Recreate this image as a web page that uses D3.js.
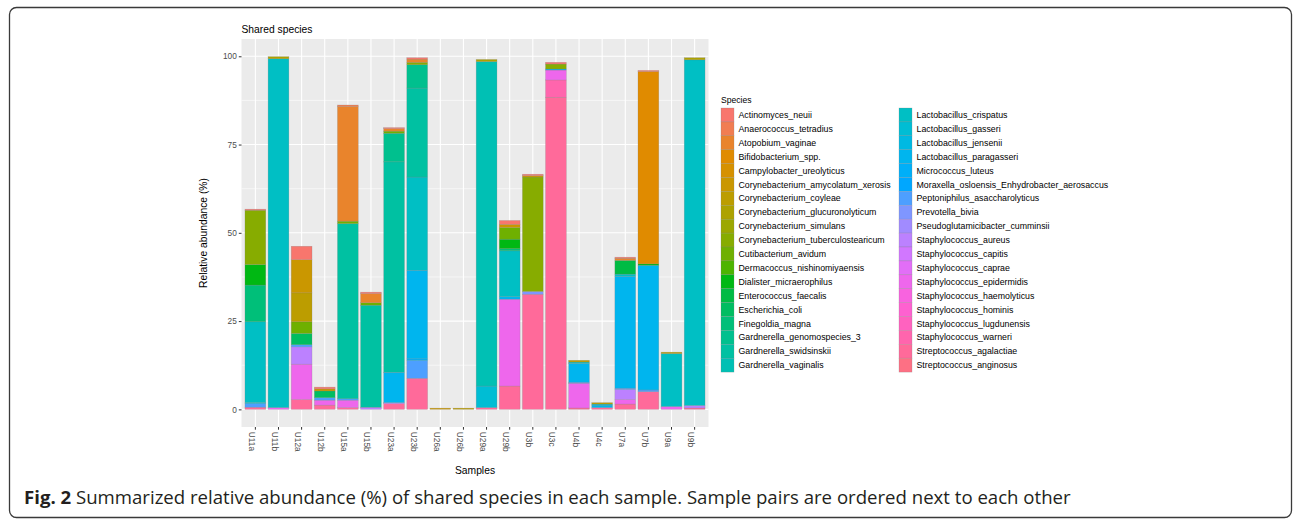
<!DOCTYPE html>
<html>
<head>
<meta charset="utf-8">
<script src="https://cdn.jsdelivr.net/npm/d3@7"></script>
<style>
  body { margin: 0; background: #fff; }
  svg text { font-family: "Liberation Sans", Arial, Helvetica, sans-serif; }
</style>
</head>
<body>
<div id="chart"></div>
<script>
const width = 1293
const height = 519
const panel = ({ left: 241.5, right: 708.5, top: 39, bottom: 427 })

const samples = ["U11a", "U11b", "U12a", "U12b", "U15a", "U15b", "U23a", "U23b", "U26a", "U26b",
    "U29a", "U29b", "U3b", "U3c", "U4b", "U4c", "U7a", "U7b", "U9a", "U9b"]

const species = [
    "Actinomyces_neuii", "Anaerococcus_tetradius", "Atopobium_vaginae", "Bifidobacterium_spp.",
    "Campylobacter_ureolyticus", "Corynebacterium_amycolatum_xerosis", "Corynebacterium_coyleae",
    "Corynebacterium_glucuronolyticum", "Corynebacterium_simulans", "Corynebacterium_tuberculostearicum",
    "Cutibacterium_avidum", "Dermacoccus_nishinomiyaensis", "Dialister_micraerophilus",
    "Enterococcus_faecalis", "Escherichia_coli", "Finegoldia_magna", "Gardnerella_genomospecies_3",
    "Gardnerella_swidsinskii", "Gardnerella_vaginalis", "Lactobacillus_crispatus", "Lactobacillus_gasseri",
    "Lactobacillus_jensenii", "Lactobacillus_paragasseri", "Micrococcus_luteus",
    "Moraxella_osloensis_Enhydrobacter_aerosaccus", "Peptoniphilus_asaccharolyticus", "Prevotella_bivia",
    "Pseudoglutamicibacter_cumminsii", "Staphylococcus_aureus", "Staphylococcus_capitis",
    "Staphylococcus_caprae", "Staphylococcus_epidermidis", "Staphylococcus_haemolyticus",
    "Staphylococcus_hominis", "Staphylococcus_lugdunensis", "Staphylococcus_warneri",
    "Streptococcus_agalactiae", "Streptococcus_anginosus"]

// [sample, species, relative abundance %]
const abundance = [
    ["U11a", "Streptococcus_agalactiae", 0.6], ["U11a", "Peptoniphilus_asaccharolyticus", 1.0],
    ["U11a", "Lactobacillus_paragasseri", 0.3], ["U11a", "Lactobacillus_crispatus", 22.9],
    ["U11a", "Finegoldia_magna", 10.4], ["U11a", "Dialister_micraerophilus", 5.8],
    ["U11a", "Corynebacterium_tuberculostearicum", 15.4], ["U11a", "Actinomyces_neuii", 0.3],

    ["U11b", "Staphylococcus_epidermidis", 0.5], ["U11b", "Lactobacillus_crispatus", 98.8],
    ["U11b", "Corynebacterium_glucuronolyticum", 0.6],

    ["U12a", "Streptococcus_agalactiae", 2.8], ["U12a", "Staphylococcus_epidermidis", 10.0],
    ["U12a", "Staphylococcus_aureus", 4.9], ["U12a", "Peptoniphilus_asaccharolyticus", 0.6],
    ["U12a", "Escherichia_coli", 3.2], ["U12a", "Cutibacterium_avidum", 3.3],
    ["U12a", "Corynebacterium_coyleae", 8.2], ["U12a", "Corynebacterium_amycolatum_xerosis", 9.4],
    ["U12a", "Actinomyces_neuii", 3.8],

    ["U12b", "Streptococcus_agalactiae", 1.2], ["U12b", "Staphylococcus_epidermidis", 1.4],
    ["U12b", "Peptoniphilus_asaccharolyticus", 0.7], ["U12b", "Escherichia_coli", 1.9],
    ["U12b", "Corynebacterium_amycolatum_xerosis", 0.6], ["U12b", "Actinomyces_neuii", 0.5],

    ["U15a", "Streptococcus_agalactiae", 0.5], ["U15a", "Staphylococcus_epidermidis", 2.1],
    ["U15a", "Peptoniphilus_asaccharolyticus", 0.4], ["U15a", "Gardnerella_swidsinskii", 49.6],
    ["U15a", "Cutibacterium_avidum", 0.7], ["U15a", "Atopobium_vaginae", 32.5],
    ["U15a", "Anaerococcus_tetradius", 0.4],

    ["U15b", "Staphylococcus_aureus", 0.6], ["U15b", "Gardnerella_swidsinskii", 28.9],
    ["U15b", "Cutibacterium_avidum", 0.7], ["U15b", "Atopobium_vaginae", 2.6],
    ["U15b", "Actinomyces_neuii", 0.4],

    ["U23a", "Streptococcus_agalactiae", 1.6], ["U23a", "Staphylococcus_aureus", 0.3],
    ["U23a", "Lactobacillus_paragasseri", 8.6], ["U23a", "Gardnerella_swidsinskii", 59.6],
    ["U23a", "Gardnerella_genomospecies_3", 8.1], ["U23a", "Cutibacterium_avidum", 0.6],
    ["U23a", "Atopobium_vaginae", 0.7], ["U23a", "Actinomyces_neuii", 0.3],

    ["U23b", "Streptococcus_agalactiae", 8.8], ["U23b", "Peptoniphilus_asaccharolyticus", 5.0],
    ["U23b", "Micrococcus_luteus", 0.5], ["U23b", "Lactobacillus_paragasseri", 25.1],
    ["U23b", "Lactobacillus_crispatus", 26.4], ["U23b", "Gardnerella_swidsinskii", 25.2],
    ["U23b", "Gardnerella_genomospecies_3", 6.6], ["U23b", "Corynebacterium_tuberculostearicum", 0.7],
    ["U23b", "Atopobium_vaginae", 0.9], ["U23b", "Actinomyces_neuii", 0.4],

    ["U26a", "Corynebacterium_amycolatum_xerosis", 0.35],

    ["U26b", "Corynebacterium_coyleae", 0.35],

    ["U29a", "Streptococcus_agalactiae", 0.5], ["U29a", "Lactobacillus_gasseri", 6.1],
    ["U29a", "Gardnerella_vaginalis", 91.9], ["U29a", "Corynebacterium_glucuronolyticum", 0.6],

    ["U29b", "Streptococcus_agalactiae", 6.6], ["U29b", "Staphylococcus_epidermidis", 24.6],
    ["U29b", "Lactobacillus_paragasseri", 0.7], ["U29b", "Lactobacillus_crispatus", 13.0],
    ["U29b", "Finegoldia_magna", 0.6], ["U29b", "Dialister_micraerophilus", 2.7],
    ["U29b", "Cutibacterium_avidum", 3.3], ["U29b", "Corynebacterium_amycolatum_xerosis", 0.9],
    ["U29b", "Actinomyces_neuii", 1.1],

    ["U3b", "Streptococcus_agalactiae", 32.6], ["U3b", "Prevotella_bivia", 0.8],
    ["U3b", "Corynebacterium_tuberculostearicum", 32.4], ["U3b", "Corynebacterium_amycolatum_xerosis", 0.4],
    ["U3b", "Actinomyces_neuii", 0.4],

    ["U3c", "Streptococcus_agalactiae", 88.4], ["U3c", "Staphylococcus_warneri", 4.9],
    ["U3c", "Staphylococcus_epidermidis", 2.8], ["U3c", "Lactobacillus_paragasseri", 0.3],
    ["U3c", "Corynebacterium_tuberculostearicum", 1.4], ["U3c", "Actinomyces_neuii", 0.5],

    ["U4b", "Streptococcus_agalactiae", 0.4], ["U4b", "Staphylococcus_epidermidis", 7.0],
    ["U4b", "Peptoniphilus_asaccharolyticus", 0.3], ["U4b", "Lactobacillus_paragasseri", 5.3],
    ["U4b", "Lactobacillus_crispatus", 0.4], ["U4b", "Corynebacterium_coyleae", 0.5],

    ["U4c", "Streptococcus_agalactiae", 0.5], ["U4c", "Lactobacillus_paragasseri", 0.7],
    ["U4c", "Lactobacillus_crispatus", 0.3], ["U4c", "Corynebacterium_coyleae", 0.4],

    ["U7a", "Streptococcus_agalactiae", 1.5], ["U7a", "Staphylococcus_epidermidis", 1.3],
    ["U7a", "Staphylococcus_aureus", 2.85], ["U7a", "Peptoniphilus_asaccharolyticus", 0.35],
    ["U7a", "Lactobacillus_paragasseri", 31.7], ["U7a", "Lactobacillus_crispatus", 0.6],
    ["U7a", "Enterococcus_faecalis", 3.9], ["U7a", "Atopobium_vaginae", 0.6],
    ["U7a", "Actinomyces_neuii", 0.3],

    ["U7b", "Streptococcus_agalactiae", 5.0], ["U7b", "Peptoniphilus_asaccharolyticus", 0.5],
    ["U7b", "Lactobacillus_paragasseri", 35.3], ["U7b", "Dialister_micraerophilus", 0.4],
    ["U7b", "Bifidobacterium_spp.", 54.5], ["U7b", "Actinomyces_neuii", 0.3],

    ["U9a", "Staphylococcus_epidermidis", 0.8], ["U9a", "Lactobacillus_crispatus", 15.0],
    ["U9a", "Corynebacterium_coyleae", 0.4],

    ["U9b", "Streptococcus_agalactiae", 0.4], ["U9b", "Staphylococcus_aureus", 0.7],
    ["U9b", "Lactobacillus_crispatus", 97.9], ["U9b", "Corynebacterium_glucuronolyticum", 0.6]
]

const yTicks = [0, 25, 50, 75, 100]
const yMinorTicks = [12.5, 37.5, 62.5, 87.5]

// ggplot2 default hue palette: hcl(h, c = 100, l = 65), polar CIE-Luv
function hueColour(h, c = 100, l = 65) {
    const xn = 0.95047, yn = 1, zn = 1.08883
    const d = xn + 15 * yn + 3 * zn
    const un = 4 * xn / d, vn = 9 * yn / d
    const u = c * Math.cos(h * Math.PI / 180), v = c * Math.sin(h * Math.PI / 180)
    const Y = yn * Math.pow((l + 16) / 116, 3)
    const up = u / (13 * l) + un, vp = v / (13 * l) + vn
    const X = Y * 9 * up / (4 * vp)
    const Z = Y * (12 - 3 * up - 20 * vp) / (4 * vp)
    const lin = [3.240479 * X - 1.53715 * Y - 0.498535 * Z,
        -0.969256 * X + 1.875992 * Y + 0.041556 * Z,
        0.055648 * X - 0.204043 * Y + 1.057311 * Z]
    const gam = t => t <= 0.0031308 ? 12.92 * t : 1.055 * Math.pow(t, 1 / 2.4) - 0.055
    return d3.rgb(...lin.map(t => Math.round(255 * Math.min(1, gam(Math.max(0, t)))))).formatHex()
}
const colour = d3.scaleOrdinal()
    .domain(species)
    .range(species.map((s, i) => hueColour(15 + i * 360 / species.length)))

const svg = d3.select("#chart")
    .append("svg")
    .attr("width", width)
    .attr("height", height)

// figure frame
svg.append("rect")
    .attr("x", 9.5).attr("y", 7.5)
    .attr("width", 1282).attr("height", 510)
    .attr("rx", 7)
    .attr("fill", "none")
    .attr("stroke", "#3a3a3a")
    .attr("stroke-width", 1.3)

const x = d3.scaleBand()
    .domain(samples)
    .range([panel.left, panel.right])
    .paddingInner(0.1)
    .paddingOuter(0.15)

const totals = samples.map(s => d3.sum(abundance.filter(d => d[0] == s), d => d[2]))
const yMax = d3.max(totals)
const y = d3.scaleLinear()
    .domain([-0.05 * yMax, 1.05 * yMax])
    .range([panel.bottom, panel.top])

// panel
svg.append("rect")
    .attr("x", panel.left).attr("y", panel.top)
    .attr("width", panel.right - panel.left)
    .attr("height", panel.bottom - panel.top)
    .attr("fill", "#EBEBEB")

svg.append("g").selectAll("line")
    .data(yMinorTicks)
    .join("line")
    .attr("x1", panel.left).attr("x2", panel.right)
    .attr("y1", d => y(d)).attr("y2", d => y(d))
    .attr("stroke", "#fff").attr("stroke-width", 0.55)

svg.append("g").selectAll("line")
    .data(yTicks)
    .join("line")
    .attr("x1", panel.left).attr("x2", panel.right)
    .attr("y1", d => y(d)).attr("y2", d => y(d))
    .attr("stroke", "#fff").attr("stroke-width", 1.1)

svg.append("g").selectAll("line")
    .data(samples)
    .join("line")
    .attr("x1", d => x(d) + x.bandwidth() / 2).attr("x2", d => x(d) + x.bandwidth() / 2)
    .attr("y1", panel.top).attr("y2", panel.bottom)
    .attr("stroke", "#fff").attr("stroke-width", 1.1)

// stacked bars: first species level on top, as in ggplot2
const stacked = []
samples.forEach(s => {
    let base = 0
    abundance.filter(d => d[0] == s)
        .sort((a, b) => species.indexOf(b[1]) - species.indexOf(a[1]))
        .forEach(d => {
            stacked.push({ sample: s, species: d[1], y0: base, y1: base + d[2] })
            base += d[2]
        })
})

svg.append("g").selectAll("rect")
    .data(stacked)
    .join("rect")
    .attr("x", d => x(d.sample))
    .attr("width", x.bandwidth())
    .attr("y", d => y(d.y1))
    .attr("height", d => y(d.y0) - y(d.y1))
    .attr("fill", d => colour(d.species))
    .attr("stroke", "#808080")
    .attr("stroke-opacity", 0.45)
    .attr("stroke-width", 0.5)

// axes
const yAxis = svg.append("g")
    .attr("transform", `translate(${panel.left},0)`)
    .call(d3.axisLeft(y).tickValues(yTicks).tickSize(2.7).tickPadding(2))
yAxis.select(".domain").remove()
yAxis.selectAll(".tick line").attr("stroke", "#333")
yAxis.selectAll(".tick text")
    .attr("fill", "#4D4D4D")
    .style("font-size", "8.3px")

const xAxis = svg.append("g")
    .attr("transform", `translate(0,${panel.bottom})`)
    .call(d3.axisBottom(x).tickSize(2.7))
xAxis.select(".domain").remove()
xAxis.selectAll(".tick line").attr("stroke", "#333")
xAxis.selectAll(".tick text")
    .attr("fill", "#4D4D4D")
    .style("font-size", "8.3px")
    .attr("text-anchor", "start")
    .attr("dy", null)
    .attr("y", 0)
    .attr("transform", "translate(-6.5,4.8) rotate(90)")

svg.append("text")
    .text("Shared species")
    .attr("x", panel.left)
    .attr("y", 32.5)
    .style("font-size", "10.3px")

svg.append("text")
    .text("Samples")
    .attr("x", (panel.left + panel.right) / 2)
    .attr("y", 474)
    .style("text-anchor", "middle")
    .style("font-size", "10.3px")

svg.append("text")
    .text("Relative abundance (%)")
    .attr("transform", "rotate(-90)")
    .attr("x", -(panel.top + panel.bottom) / 2)
    .attr("y", 206.5)
    .style("text-anchor", "middle")
    .style("font-size", "10.3px")

// legend
const legendRows = 19
const rowHeight = 13.9
const legendColumns = [721, 899]
const legend = svg.append("g")
legend.append("text")
    .text("Species")
    .attr("x", 721)
    .attr("y", 103)
    .style("font-size", "8.6px")

const keys = legend.selectAll("g")
    .data(species)
    .join("g")
    .attr("transform", (d, i) => `translate(${legendColumns[Math.floor(i / legendRows)]},${108 + (i % legendRows) * rowHeight})`)
keys.append("rect")
    .attr("width", 13)
    .attr("height", rowHeight)
    .attr("fill", d => colour(d))
    .attr("stroke", "#808080")
    .attr("stroke-opacity", 0.45)
    .attr("stroke-width", 0.5)
keys.append("text")
    .text(d => d)
    .attr("x", 17.5)
    .attr("y", rowHeight / 2)
    .attr("dy", "0.35em")
    .style("font-size", "8.8px")

// caption
const caption = svg.append("text")
    .attr("x", 24)
    .attr("y", 504)
    .attr("fill", "#231F20")
    .style("font-family", "'Open Sans', 'Noto Sans', sans-serif")
    .style("font-size", "18.6px")
caption.append("tspan")
    .style("font-weight", "bold")
    .text("Fig. 2")
caption.append("tspan")
    .text(" Summarized relative abundance (%) of shared species in each sample. Sample pairs are ordered next to each other")
</script>
</body>
</html>
